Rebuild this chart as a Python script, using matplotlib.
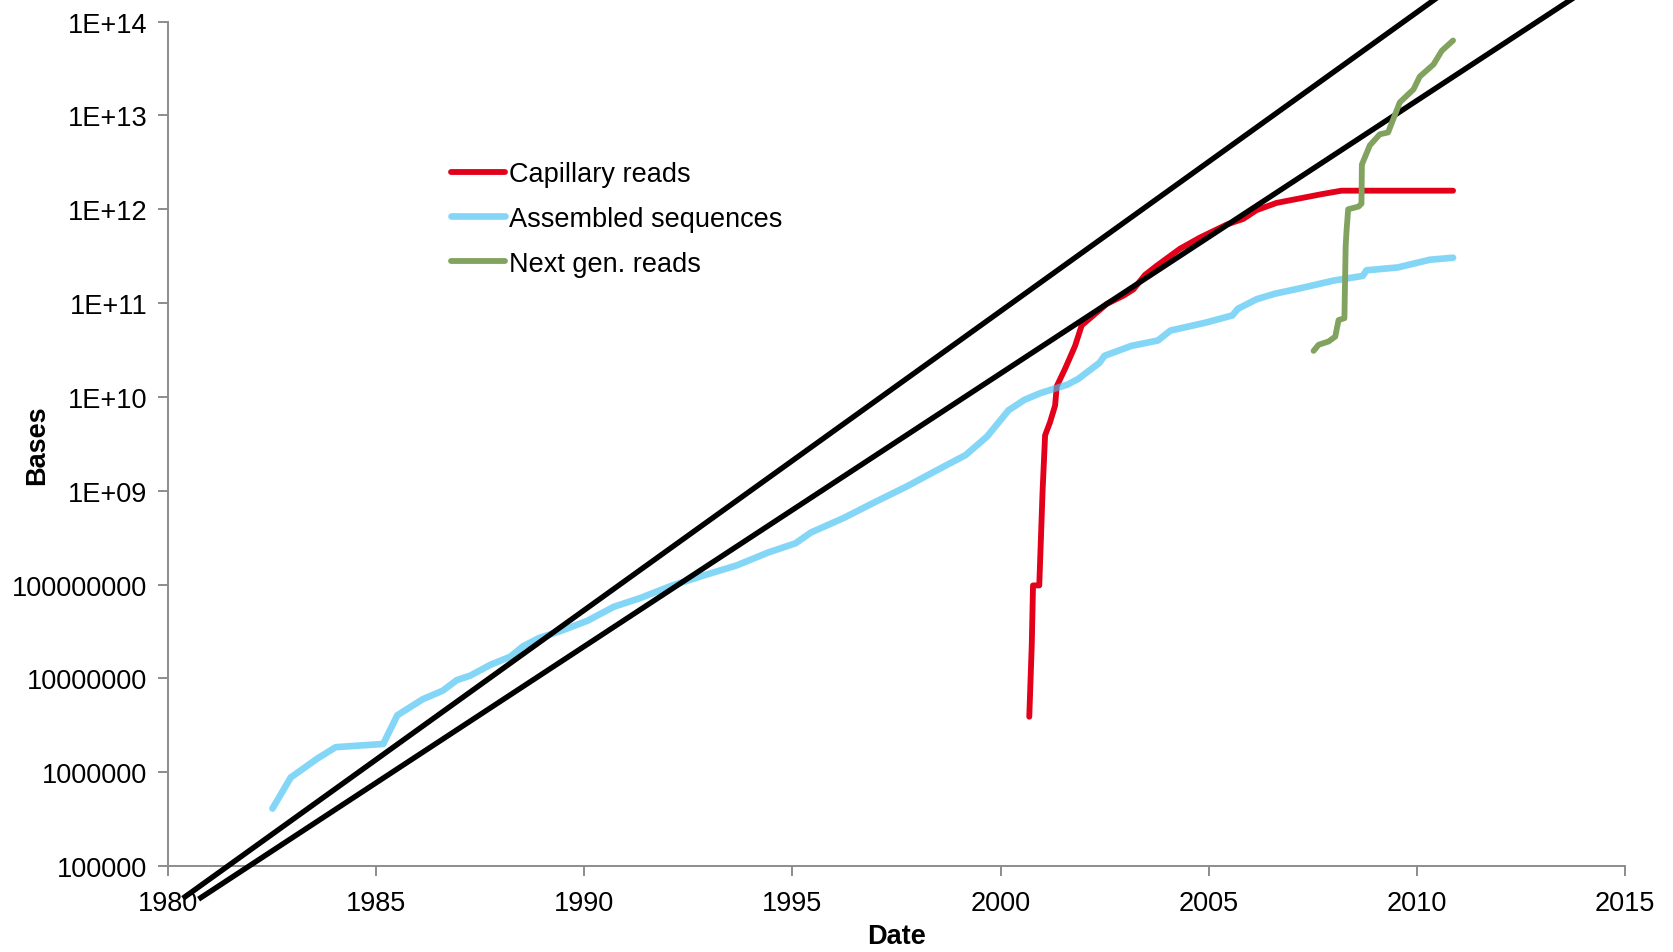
import matplotlib
matplotlib.use('Agg')
from matplotlib import pyplot as plt
import numpy as np

plt.rcParams['font.family'] = ['Liberation Sans', 'DejaVu Sans']

# assembled sequences
asm_year = [1982.51, 1982.95, 1983.59, 1984.03, 1985.17, 1985.51, 1986.12, 1986.60,
            1986.94, 1987.26, 1987.75, 1988.22, 1988.53, 1988.92, 1989.43, 1990.07,
            1990.71, 1991.35, 1992.12, 1992.89, 1993.66, 1994.42, 1995.07, 1995.45,
            1996.22, 1996.99, 1997.76, 1998.52, 1999.16, 1999.68, 2000.19, 2000.57,
            2000.96, 2001.60, 2001.86, 2002.37, 2002.50, 2003.14, 2003.78, 2004.08,
            2004.93, 2005.57, 2005.70, 2006.15, 2006.59, 2007.23, 2008.00, 2008.70,
            2008.79, 2009.54, 2010.31, 2010.87]
asm_bases = [4.1e5, 8.8e5, 1.4e6, 1.85e6, 2.0e6, 4.05e6, 6.0e6, 7.4e6,
             9.6e6, 1.07e7, 1.4e7, 1.7e7, 2.2e7, 2.7e7, 3.2e7, 4.1e7,
             5.8e7, 7.2e7, 9.8e7, 1.26e8, 1.6e8, 2.2e8, 2.75e8, 3.6e8,
             5.1e8, 7.6e8, 1.12e9, 1.7e9, 2.4e9, 3.8e9, 7.2e9, 9.3e9,
             1.1e10, 1.35e10, 1.55e10, 2.3e10, 2.75e10, 3.5e10, 4.0e10, 5.1e10,
             6.2e10, 7.4e10, 8.7e10, 1.1e11, 1.26e11, 1.45e11, 1.74e11, 1.95e11,
             2.24e11, 2.4e11, 2.9e11, 3.05e11]

# capillary reads
cap_year = [2000.69, 2000.75, 2000.78, 2000.93, 2001.01, 2001.07, 2001.19, 2001.31,
            2001.35, 2001.55, 2001.79, 2001.95, 2002.23, 2002.55, 2002.95, 2003.19,
            2003.47, 2003.75, 2004.31, 2004.79, 2005.44, 2005.83, 2006.15, 2006.63,
            2007.71, 2008.19, 2010.87]
cap_bases = [3.9e6, 2.3e7, 9.8e7, 9.8e7, 1.0e9, 3.9e9, 5.4e9, 8.1e9,
             1.3e10, 2.0e10, 3.5e10, 5.8e10, 7.4e10, 9.8e10, 1.2e11, 1.4e11,
             2.0e11, 2.5e11, 3.8e11, 5.0e11, 6.9e11, 7.9e11, 9.8e11, 1.17e12,
             1.45e12, 1.58e12, 1.58e12]

# next gen reads
ngs_year = [2007.52, 2007.64, 2007.88, 2008.04, 2008.12, 2008.26, 2008.29, 2008.31,
            2008.35, 2008.60, 2008.67, 2008.68, 2008.87, 2009.11, 2009.31, 2009.59,
            2009.92, 2010.07, 2010.40, 2010.60, 2010.87]
ngs_bases = [3.1e10, 3.6e10, 3.9e10, 4.4e10, 6.6e10, 6.9e10, 4.0e11, 5.8e11,
             1.0e12, 1.07e12, 1.15e12, 3.0e12, 4.8e12, 6.3e12, 6.6e12, 1.38e13,
             1.9e13, 2.6e13, 3.5e13, 4.9e13, 6.3e13]

# exponential trend lines (start, end)
trend1_year = [1980.41, 2010.44]
trend1_bases = [4.7e4, 1.74e14]
trend2_year = [1980.79, 2013.72]
trend2_bases = [4.6e4, 1.74e14]

x_ticks = [1980, 1985, 1990, 1995, 2000, 2005, 2010, 2015]
y_ticks = [1e5, 1e6, 1e7, 1e8, 1e9, 1e10, 1e11, 1e12, 1e13, 1e14]
y_labels = ['100000', '1000000', '10000000', '100000000', '1E+09', '1E+10',
            '1E+11', '1E+12', '1E+13', '1E+14']

fig = plt.figure(figsize=(16.73, 9.53), dpi=100)
ax = fig.add_axes([0.1004, 0.0902, 0.8709, 0.886])

red = '#E2001A'
blue = '#43C1F3'
green = '#82A35F'
axis_grey = '#8C8C8C'

ax.plot(cap_year, cap_bases, color=red, lw=4.2, solid_capstyle='round',
        solid_joinstyle='round', label='Capillary reads', zorder=3)
ax.plot(asm_year, asm_bases, color=blue, alpha=0.65, lw=4.8, solid_capstyle='round',
        solid_joinstyle='round', label='Assembled sequences', zorder=4)
ax.plot(ngs_year, ngs_bases, color=green, lw=4.2, solid_capstyle='round',
        solid_joinstyle='round', label='Next gen. reads', zorder=6)
ax.plot(trend1_year, trend1_bases, color='black', lw=3.9, clip_on=False, zorder=5)
ax.plot(trend2_year, trend2_bases, color='black', lw=3.9, clip_on=False, zorder=5)

ax.set_yscale('log')
ax.set_xlim(1980, 2015)
ax.set_ylim(1e5, 1e14)
ax.set_xticks(x_ticks)
ax.set_xticklabels([str(t) for t in x_ticks])
ax.set_yticks(y_ticks)
ax.set_yticklabels(y_labels)
ax.minorticks_off()

for s in ['top', 'right']:
    ax.spines[s].set_visible(False)
for s in ['left', 'bottom']:
    ax.spines[s].set_color(axis_grey)
    ax.spines[s].set_linewidth(1.4)
ax.tick_params(axis='both', colors=axis_grey, labelcolor='black', labelsize=19.5,
               length=7, width=1.4, direction='out')
ax.tick_params(axis='x', pad=10)
ax.tick_params(axis='y', pad=8)

ax.set_xlabel('Date', fontsize=19.5, fontweight='bold')
ax.set_ylabel('Bases', fontsize=19.5, fontweight='bold')
ax.xaxis.set_label_coords(0.5, -0.067)
ax.yaxis.set_label_coords(-0.081, 0.5)

leg = ax.legend(loc='upper left', bbox_to_anchor=(451 / 1673, 1 - 162 / 953),
                bbox_transform=fig.transFigure, frameon=False, fontsize=19.5,
                handlelength=2.0, handletextpad=0.15, labelspacing=0.7,
                borderpad=0, borderaxespad=0)

plt.savefig('out.png', dpi=100)
